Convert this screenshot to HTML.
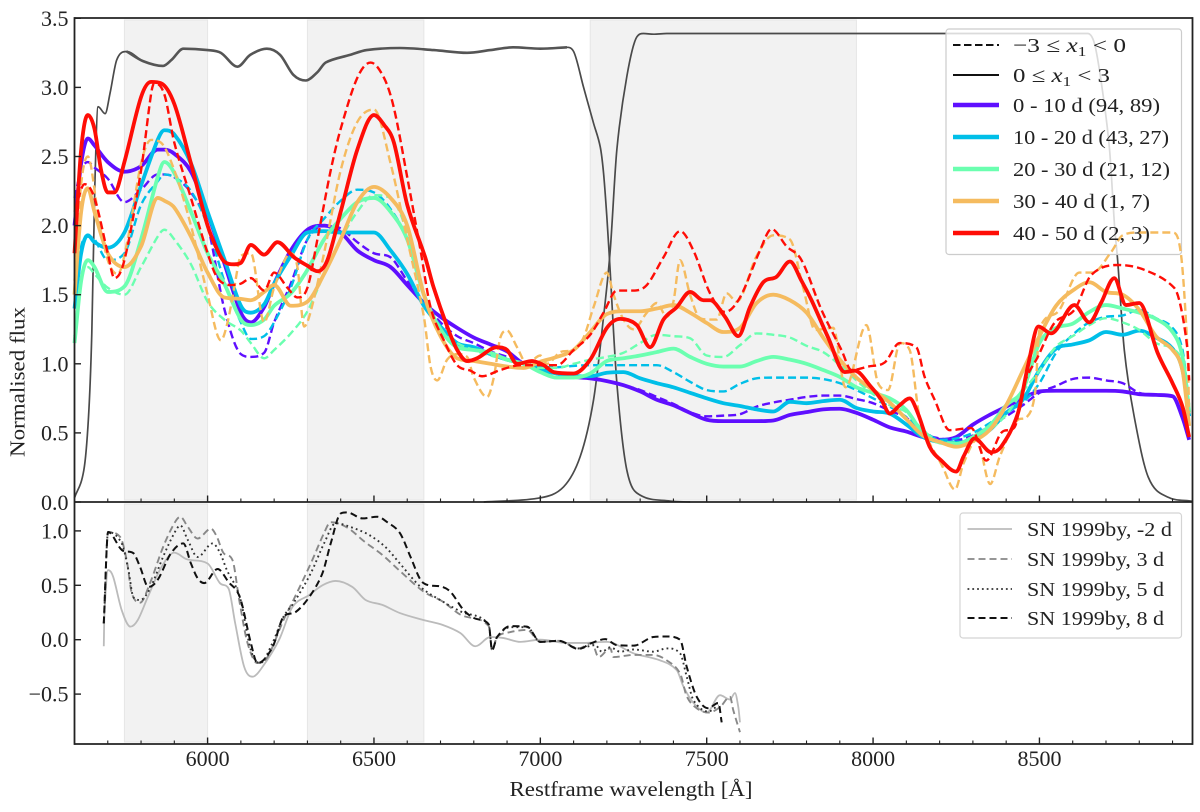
<!DOCTYPE html>
<html lang="en">
<head>
<meta charset="utf-8">
<title>Normalised flux spectra</title>
<style>
html,body{margin:0;padding:0;background:#fff;}
svg{display:block;font-family:"Liberation Serif",serif;fill:#222;}
</style>
</head>
<body>
<svg id="chart" xmlns="http://www.w3.org/2000/svg" width="1200" height="812" viewBox="0 0 1200 812">
  <g id="shades"></g>
  <g id="filters"></g>
  <rect x="946" y="29" width="235.5" height="225.5" rx="3" fill="#fff" fill-opacity="0.8" stroke="#cccccc" stroke-width="1.2"></rect>
  <rect x="960" y="513" width="221.5" height="125" rx="3" fill="#fff" stroke="#d4d4d4" stroke-width="1.2"></rect>
  <g id="series"></g>
  <g id="comparison"></g>
  <g id="axes"></g>

  <g font-size="20.5" fill="#222">
    <line x1="953" x2="999" y1="45" y2="45" stroke="#111" stroke-width="2" stroke-dasharray="7.5,3.5"></line>
    <text x="1013" y="52" textLength="113" lengthAdjust="spacingAndGlyphs">−3 ≤ <tspan font-style="italic">x</tspan><tspan dy="4" font-size="14">1</tspan><tspan dy="-4"> &lt; 0</tspan></text>
    <line x1="953" x2="999" y1="75" y2="75" stroke="#111" stroke-width="2"></line>
    <text x="1013" y="82" textLength="97" lengthAdjust="spacingAndGlyphs">0 ≤ <tspan font-style="italic">x</tspan><tspan dy="4" font-size="14">1</tspan><tspan dy="-4"> &lt; 3</tspan></text>
    <line x1="953" x2="999" y1="105" y2="105" stroke="#5f0fff" stroke-width="4.4"></line>
    <text x="1013" y="112" textLength="147" lengthAdjust="spacingAndGlyphs">0 - 10 d (94, 89)</text>
    <line x1="953" x2="999" y1="137" y2="137" stroke="#00bfe8" stroke-width="4.4"></line>
    <text x="1013" y="144" textLength="156" lengthAdjust="spacingAndGlyphs">10 - 20 d (43, 27)</text>
    <line x1="953" x2="999" y1="169" y2="169" stroke="#6bffb0" stroke-width="4.4"></line>
    <text x="1013" y="176" textLength="157" lengthAdjust="spacingAndGlyphs">20 - 30 d (21, 12)</text>
    <line x1="953" x2="999" y1="201" y2="201" stroke="#f5bb5f" stroke-width="4.4"></line>
    <text x="1013" y="208" textLength="137" lengthAdjust="spacingAndGlyphs">30 - 40 d (1, 7)</text>
    <line x1="953" x2="999" y1="233" y2="233" stroke="#ff0d06" stroke-width="4.4"></line>
    <text x="1013" y="240" textLength="137" lengthAdjust="spacingAndGlyphs">40 - 50 d (2, 3)</text>
  </g>

  <g font-size="20.5" fill="#222">
    <line x1="967.5" x2="1012" y1="529" y2="529" stroke="#bbbbbb" stroke-width="1.8"></line>
    <text x="1027" y="536" textLength="145" lengthAdjust="spacingAndGlyphs">SN 1999by, -2 d</text>
    <line x1="967.5" x2="1012" y1="559" y2="559" stroke="#888888" stroke-width="1.8" stroke-dasharray="7,4"></line>
    <text x="1027" y="566" textLength="137" lengthAdjust="spacingAndGlyphs">SN 1999by, 3 d</text>
    <line x1="967.5" x2="1012" y1="589" y2="589" stroke="#333333" stroke-width="1.8" stroke-dasharray="1.8,3"></line>
    <text x="1027" y="596" textLength="137" lengthAdjust="spacingAndGlyphs">SN 1999by, 5 d</text>
    <line x1="967.5" x2="1012" y1="618" y2="618" stroke="#111111" stroke-width="2" stroke-dasharray="7,4"></line>
    <text x="1027" y="625" textLength="137" lengthAdjust="spacingAndGlyphs">SN 1999by, 8 d</text>
  </g>

  <text x="0" y="0" font-size="21" fill="#222" text-anchor="middle" textLength="150" lengthAdjust="spacingAndGlyphs" transform="translate(24.5,382) rotate(-90)">Normalised flux</text>
  <text x="631" y="796" font-size="21" fill="#222" text-anchor="middle" textLength="243" lengthAdjust="spacingAndGlyphs">Restframe wavelength [Å]</text>
</svg>

<script>
// Shared wavelength grid for the smoother stacked spectra
const waveGrid = [5600,5620,5640,5660,5700,5750,5800,5850,5870,5900,
  5950,6000,6050,6100,6130,6170,6200,6250,6300,6350,
  6400,6450,6500,6550,6600,6650,6700,6750,6800,6850,
  6900,6950,7000,7050,7100,7150,7200,7250,7300,7350,
  7400,7450,7500,7550,7600,7650,7700,7750,7800,7850,
  7900,7950,8000,8050,8100,8150,8200,8250,8300,8350,
  8400,8450,8500,8550,8600,8650,8700,8750,8800,8850,
  8900,8930,8950];

const flux0to10Solid = [2.0,2.45,2.63,2.58,2.46,2.39,2.43,2.55,2.55,2.52,
  2.39,2.09,1.73,1.37,1.30,1.41,1.58,1.82,1.97,2.0,
  1.95,1.82,1.75,1.70,1.57,1.44,1.34,1.26,1.19,1.14,
  1.09,1.0,0.98,0.93,0.905,0.895,0.875,0.845,0.80,0.74,
  0.70,0.645,0.595,0.585,0.585,0.585,0.59,0.63,0.65,0.67,
  0.675,0.645,0.595,0.54,0.51,0.47,0.45,0.47,0.56,0.63,
  0.69,0.75,0.80,0.805,0.805,0.805,0.805,0.80,0.78,0.775,
  0.765,0.61,0.45];
const flux0to10Dashed = [2.2,2.40,2.46,2.42,2.34,2.17,2.26,2.37,2.37,2.35,
  2.24,2.0,1.4,1.07,1.05,1.08,1.3,1.58,1.9,2.0,
  1.98,1.88,1.80,1.77,1.6,1.44,1.3,1.2,1.15,1.09,
  1.05,1.0,0.97,0.93,0.905,0.895,0.875,0.845,0.81,0.76,
  0.71,0.65,0.62,0.625,0.635,0.69,0.72,0.74,0.76,0.77,
  0.77,0.745,0.715,0.66,0.61,0.5,0.46,0.45,0.48,0.55,
  0.62,0.70,0.79,0.84,0.89,0.90,0.88,0.86,0.79,0.775,
  0.765,0.6,0.45];
const flux10to20Solid = [1.4,1.8,1.93,1.88,1.84,1.95,2.29,2.62,2.69,2.66,
  2.45,2.1,1.76,1.42,1.37,1.43,1.58,1.78,1.95,1.96,
  1.95,1.95,1.95,1.82,1.65,1.42,1.27,1.15,1.12,1.07,
  1.03,1.0,0.955,0.93,0.91,0.91,0.935,0.94,0.895,0.86,
  0.83,0.79,0.75,0.715,0.695,0.67,0.655,0.725,0.715,0.73,
  0.74,0.68,0.655,0.64,0.56,0.47,0.435,0.43,0.45,0.52,
  0.645,0.74,0.955,1.11,1.14,1.17,1.23,1.21,1.24,1.19,
  1.11,0.955,0.62];
const flux10to20Dashed = [1.4,1.85,1.92,1.9,1.75,1.8,2.15,2.32,2.37,2.35,
  2.25,2.0,1.6,1.3,1.18,1.2,1.3,1.55,1.9,2.05,
  2.18,2.26,2.24,2.12,1.9,1.5,1.25,1.13,1.10,1.07,
  1.04,1.0,0.98,0.975,0.985,0.99,0.99,0.99,0.99,0.99,
  0.94,0.87,0.81,0.80,0.855,0.895,0.90,0.90,0.90,0.89,
  0.86,0.81,0.75,0.69,0.615,0.52,0.45,0.46,0.50,0.57,
  0.65,0.72,0.86,1.08,1.21,1.30,1.34,1.35,1.39,1.33,
  1.26,1.1,0.7];
const flux20to30Solid = [1.15,1.6,1.75,1.7,1.52,1.56,1.9,2.35,2.46,2.38,
  2.1,1.8,1.58,1.32,1.28,1.32,1.42,1.51,1.68,1.9,
  2.05,2.17,2.2,2.1,1.9,1.5,1.25,1.12,1.1,1.08,
  1.03,1.0,0.94,0.9,0.9,0.93,1.02,1.04,1.06,1.085,
  1.11,1.05,1.0,0.98,0.98,1.02,1.05,1.03,1.0,0.955,
  0.905,0.83,0.79,0.75,0.665,0.5,0.43,0.42,0.47,0.55,
  0.7,0.81,1.15,1.26,1.29,1.375,1.425,1.40,1.37,1.325,
  1.23,1.05,0.65];
const flux20to30Dashed = [1.2,1.62,1.7,1.65,1.55,1.5,1.7,1.92,1.97,1.9,
  1.72,1.45,1.32,1.24,1.15,1.04,1.1,1.22,1.38,1.65,
  1.9,2.1,2.22,2.2,1.95,1.5,1.25,1.15,1.1,1.06,
  1.03,1.0,0.97,0.97,1.0,1.03,1.05,1.08,1.15,1.21,
  1.2,1.185,1.06,1.05,1.135,1.22,1.21,1.19,1.13,1.085,
  0.99,0.88,0.78,0.7,0.65,0.52,0.44,0.43,0.44,0.52,
  0.63,0.8,0.95,1.125,1.2,1.28,1.33,1.3,1.245,1.15,
  1.11,1.0,0.65];
const flux30to40Solid = [1.5,2.1,2.27,2.1,1.8,1.7,1.85,2.2,2.18,2.13,
  1.92,1.66,1.48,1.47,1.46,1.52,1.57,1.42,1.45,1.65,
  1.9,2.17,2.28,2.2,2.0,1.5,1.2,1.04,1.02,1.0,
  0.98,0.97,1.015,1.05,1.10,1.23,1.36,1.38,1.38,1.40,
  1.425,1.37,1.295,1.23,1.26,1.44,1.50,1.46,1.37,1.19,
  1.03,0.9,0.81,0.72,0.6,0.48,0.435,0.40,0.44,0.52,
  0.7,0.95,1.2,1.42,1.53,1.59,1.52,1.5,1.39,1.2,
  1.1,0.95,0.55];

const wave30to40Dashed = [5600,5620,5640,5670,5700,5730,5760,5800,5830,5860,
  5900,5950,6000,6040,6060,6080,6100,6130,6170,6200,
  6250,6270,6290,6310,6350,6400,6450,6500,6550,6600,
  6650,6670,6690,6720,6750,6780,6800,6840,6860,6880,
  6900,6930,6960,7000,7020,7060,7100,7130,7160,7200,
  7220,7250,7280,7320,7350,7380,7400,7420,7450,7480,
  7510,7530,7560,7590,7650,7700,7750,7790,7826,7880,
  7917,7980,8015,8045,8081,8110,8140,8210,8246,8272,
  8312,8352,8381,8433,8462,8487,8500,8560,8620,8660,
  8716,8750,8800,8900,8925,8945,8950];
const flux30to40Dashed = [1.6,2.3,2.5,2.1,1.75,1.65,1.9,2.45,2.62,2.6,
  2.4,2.0,1.5,1.17,1.3,1.55,1.78,1.8,1.3,1.55,
  1.8,1.7,1.27,1.38,1.8,2.4,2.75,2.84,2.45,1.9,
  1.34,0.98,0.88,1.03,1.07,1.05,0.9,0.76,0.9,1.19,
  1.24,1.12,1.0,1.06,1.0,1.085,1.1,1.19,1.41,1.66,
  1.5,1.32,1.25,1.37,1.44,1.34,1.45,1.75,1.5,1.33,
  1.32,1.32,1.51,1.45,1.78,1.93,1.9,1.55,1.245,1.26,
  0.83,1.28,0.86,0.81,1.15,1.1,0.615,0.25,0.09,0.28,
  0.45,0.13,0.33,0.59,0.615,0.79,1.245,1.39,1.66,1.66,
  1.81,1.93,1.95,1.95,1.8,1.1,0.64];

const wave40to50Solid = [5600,5620,5640,5660,5680,5700,5720,5750,5800,5830,
  5860,5900,5950,6000,6030,6050,6080,6100,6130,6170,
  6210,6260,6300,6330,6360,6400,6450,6500,6530,6560,
  6600,6654,6679,6720,6750,6780,6810,6870,6900,6930,
  6975,7010,7040,7100,7150,7200,7240,7290,7330,7370,
  7410,7450,7490,7510,7555,7595,7630,7670,7710,7750,
  7785,7815,7865,7915,7945,7995,8025,8050,8080,8110,
  8135,8170,8205,8250,8272,8305,8355,8385,8435,8465,
  8497,8535,8605,8650,8685,8725,8760,8800,8855,8900,
  8930,8950];
const flux40to50Solid = [1.8,2.55,2.8,2.7,2.4,2.24,2.24,2.46,2.93,3.04,
  3.03,2.88,2.45,2.0,1.82,1.74,1.72,1.73,1.86,1.79,
  1.88,1.77,1.71,1.67,1.75,2.1,2.55,2.8,2.73,2.6,
  2.15,1.77,1.555,1.27,1.10,1.02,1.04,1.12,1.10,1.0,
  1.02,0.99,0.94,0.93,1.03,1.26,1.325,1.28,1.12,1.32,
  1.41,1.52,1.46,1.46,1.34,1.2,1.41,1.59,1.63,1.74,
  1.60,1.46,1.19,0.94,0.95,0.83,0.74,0.64,0.70,0.75,
  0.64,0.40,0.30,0.22,0.33,0.46,0.36,0.40,0.64,0.98,
  1.27,1.22,1.425,1.30,1.44,1.62,1.425,1.44,1.08,0.86,
  0.69,0.47];

const wave40to50Dashed = [5600,5630,5660,5700,5720,5750,5800,5830,5840,5870,
  5900,5950,6000,6030,6070,6100,6130,6170,6200,6240,
  6270,6300,6330,6370,6400,6450,6490,6530,6560,6600,
  6640,6670,6710,6750,6790,6825,6880,6940,7000,7050,
  7100,7150,7190,7230,7280,7320,7370,7420,7460,7510,
  7555,7600,7660,7695,7740,7785,7845,7905,7935,7985,
  8035,8080,8130,8155,8185,8230,8295,8340,8385,8425,
  8455,8495,8545,8605,8655,8735,8815,8905,8925,8945,
  8950];
const flux40to50Dashed = [2.1,2.3,2.2,1.8,1.62,1.75,2.4,2.95,3.03,2.95,
  2.6,2.2,1.8,1.62,1.57,1.58,1.62,1.53,1.66,1.55,
  1.48,1.55,1.9,2.4,2.7,3.07,3.18,3.07,2.85,2.35,
  1.82,1.41,1.17,0.99,0.95,0.91,0.955,0.99,0.99,0.99,
  1.10,1.21,1.37,1.53,1.53,1.57,1.77,1.96,1.82,1.51,
  1.375,1.48,1.82,1.975,1.85,1.75,1.39,1.10,0.955,0.98,
  1.01,1.15,1.12,0.905,0.74,0.52,0.535,0.30,0.50,0.54,
  0.86,1.05,1.295,1.39,1.64,1.715,1.68,1.55,1.41,1.10,
  0.88];

// Filter transmission curves (grey)
const waveFilterA = [5600,5628,5642,5652,5661,5671,5692,5707,5727,5757,
  5806,5866,5892,5927,6000,6040,6090,6128,6178,6218,
  6258,6295,6330,6355,6428,6478,6578,6680,6780,6850,
  6918,7000,7080,7100,7130,7160,7180,7190,7200,7208,
  7230,7260,7300,7390,7450];
const fluxFilterA = [0.03,0.23,0.61,1.22,2.28,2.86,2.81,2.96,3.2,3.26,
  3.19,3.155,3.2,3.28,3.27,3.25,3.15,3.235,3.28,3.235,
  3.09,3.05,3.11,3.18,3.235,3.27,3.285,3.27,3.25,3.27,
  3.29,3.28,3.29,3.26,3.0,2.74,2.57,2.38,2.06,1.75,
  0.86,0.23,0.05,0.007,0];
const waveFilterB = [6830,7000,7070,7120,7160,7190,7210,7230,7260,7290,
  7310,7340,7380,8645,8665,8685,8710,8726,8735,8755,
  8785,8827,8885,8960];
const fluxFilterB = [0,0.03,0.11,0.33,0.74,1.34,1.82,2.55,3.08,3.365,
  3.39,3.385,3.39,3.39,3.32,3.05,2.57,1.99,1.75,1.10,
  0.615,0.18,0.036,0.005];

// SN 1999by comparison spectra (bottom panel)
const waveByMinus2 = [5688,5690,5701,5716,5742,5768,5790,5820,5860,5900,
  5937,6000,6037,6063,6083,6110,6135,6165,6215,6255,
  6305,6345,6385,6435,6475,6525,6578,6650,6707,6760,
  6805,6850,6890,6940,7000,7080,7130,7200,7280,7360,
  7410,7430,7460,7500,7540,7570,7585,7595,7600];
const fluxByMinus2 = [-0.06,0.25,0.64,0.58,0.27,0.12,0.18,0.39,0.66,0.80,
  0.74,0.70,0.52,0.47,0.15,-0.25,-0.34,-0.25,0.0,0.30,
  0.41,0.50,0.54,0.485,0.365,0.32,0.245,0.18,0.135,0.06,
  -0.06,0.025,0.015,-0.02,0.0,-0.03,-0.03,-0.02,-0.125,-0.19,
  -0.28,-0.43,-0.58,-0.67,-0.51,-0.55,-0.49,-0.62,-0.76];
const waveBy3 = [5688,5701,5737,5757,5772,5797,5827,5866,5900,5918,
  5940,5970,6010,6028,6047,6075,6095,6120,6150,6180,
  6228,6258,6310,6350,6370,6420,6472,6525,6575,6650,
  6707,6760,6845,6855,6870,6910,6960,7000,7055,7115,
  7155,7175,7210,7220,7280,7340,7380,7420,7440,7470,
  7505,7540,7570,7580,7600];
const fluxBy3 = [0.15,0.99,0.945,0.73,0.43,0.34,0.52,0.85,1.07,1.13,
  1.04,0.93,1.02,0.945,0.80,0.73,0.365,-0.03,-0.215,-0.16,
  0.18,0.365,0.70,0.98,1.08,1.03,0.90,0.78,0.64,0.44,
  0.35,0.23,0.125,-0.095,0.025,0.07,0.09,-0.02,-0.01,-0.08,
  -0.03,-0.16,-0.08,-0.16,-0.14,-0.14,-0.19,-0.31,-0.52,-0.63,
  -0.67,-0.62,-0.525,-0.65,-0.85];
const waveBy5 = [5688,5701,5742,5762,5777,5797,5827,5866,5900,5918,
  5940,5970,6015,6037,6058,6097,6130,6158,6195,6228,
  6258,6310,6350,6385,6435,6487,6535,6578,6640,6707,
  6760,6845,6855,6870,6910,6960,7000,7055,7115,7165,
  7185,7210,7240,7280,7340,7380,7420,7440,7460,7505,
  7535];
const fluxBy5 = [0.15,0.99,0.885,0.64,0.39,0.365,0.47,0.76,0.98,1.05,
  0.92,0.76,0.885,0.80,0.64,0.39,-0.095,-0.215,-0.03,0.21,
  0.335,0.61,0.885,1.07,1.03,0.96,0.85,0.70,0.485,0.35,
  0.26,0.14,-0.095,0.025,0.115,0.115,-0.02,-0.01,-0.08,-0.05,
  -0.11,-0.07,-0.11,-0.09,-0.11,-0.08,-0.125,-0.34,-0.555,-0.66,
  -0.60];
const waveBy8 = [5688,5701,5742,5777,5797,5822,5850,5890,5927,5950,
  5970,5990,6030,6063,6097,6130,6150,6195,6228,6265,
  6305,6345,6370,6400,6420,6465,6510,6540,6578,6610,
  6640,6665,6700,6730,6770,6800,6845,6855,6870,6910,
  6960,7000,7055,7115,7155,7195,7230,7280,7340,7380,
  7420,7440,7470,7505,7535,7545];
const fluxBy8 = [0.15,0.99,0.825,0.795,0.67,0.485,0.55,0.795,0.885,0.70,
  0.565,0.52,0.65,0.53,0.39,-0.03,-0.215,-0.07,0.21,0.255,
  0.39,0.61,0.885,1.16,1.17,1.115,1.13,1.08,0.98,0.76,
  0.55,0.50,0.49,0.44,0.27,0.2,0.14,-0.095,0.025,0.125,
  0.12,-0.02,-0.01,-0.085,-0.03,0.005,-0.05,-0.055,0.025,0.03,
  0,-0.25,-0.525,-0.63,-0.58,-0.76];

// Axis labels and shaded windows
const xMajorTicks = [6000,6500,7000,7500,8000,8500];
const xTickLabels = ["6000","6500","7000","7500","8000","8500"];
const xMinorTicks = [5700,5800,5900,6100,6200,6300,6400,6600,6700,6800,6900,7100,7200,7300,7400,7600,7700,7800,7900,8100,8200,8300,8400,8600,8700,8800,8900];
const yTopTicks = [0,0.5,1,1.5,2,2.5,3,3.5];
const yTopLabels = ["0.0","0.5","1.0","1.5","2.0","2.5","3.0","3.5"];
const yBottomTicks = [-0.5,0,0.5,1];
const yBottomLabels = ["−0.5","0.0","0.5","1.0"];
const shadeTopStart = [5750,6300,7150];
const shadeTopEnd = [6000,6650,7950];
const shadeBottomStart = [5750,6300];
const shadeBottomEnd = [6000,6650];

const SVGNS = "http://www.w3.org/2000/svg";
const LEFT = 74.5, RIGHT = 1192.5, TOP = 18, MID = 502, BOTTOM = 744;
function xScale(w){ return LEFT + (w - 5600) * (RIGHT - LEFT) / 3360; }
function yTopScale(f){ return MID - f * 138.2; }
function yBottomScale(f){ return 639.7 - f * 108.8; }

function curvePath(waves, fluxes, yScale){
  const n = Math.min(waves.length, fluxes.length);
  const px = [], py = [], d1 = [], m = [];
  for (let i = 0; i < n; i++){ px.push(xScale(waves[i])); py.push(yScale(fluxes[i])); }
  for (let i = 0; i < n - 1; i++){ d1.push((py[i + 1] - py[i]) / ((px[i + 1] - px[i]) || 1)); }
  for (let i = 0; i < n; i++){
    if (i === 0){ m.push(d1[0]); continue; }
    if (i === n - 1){ m.push(d1[n - 2]); continue; }
    if (d1[i - 1] * d1[i] <= 0){ m.push(0); continue; }
    const centred = (py[i + 1] - py[i - 1]) / ((px[i + 1] - px[i - 1]) || 1);
    const limit = 3 * Math.min(Math.abs(d1[i - 1]), Math.abs(d1[i]));
    m.push(Math.sign(centred) * Math.min(Math.abs(centred), limit));
  }
  let d = "M" + px[0].toFixed(2) + " " + py[0].toFixed(2);
  for (let i = 0; i < n - 1; i++){
    const dx = (px[i + 1] - px[i]) / 3;
    d += "C" + (px[i] + dx).toFixed(2) + " " + (py[i] + m[i] * dx).toFixed(2) + " " +
         (px[i + 1] - dx).toFixed(2) + " " + (py[i + 1] - m[i + 1] * dx).toFixed(2) + " " +
         px[i + 1].toFixed(2) + " " + py[i + 1].toFixed(2);
  }
  return d;
}

function drawCurve(parent, name, waves, fluxes, yScale, color, width, dash){
  const el = document.createElementNS(SVGNS, "path");
  el.setAttribute("d", curvePath(waves, fluxes, yScale));
  el.setAttribute("fill", "none");
  el.setAttribute("stroke", color);
  el.setAttribute("stroke-width", width);
  el.setAttribute("stroke-linejoin", "round");
  if (dash) el.setAttribute("stroke-dasharray", dash);
  
  
  parent.appendChild(el);
}

function drawRule(parent, name, x1, y1, x2, y2, width, color){
  const el = document.createElementNS(SVGNS, "line");
  el.setAttribute("x1", x1); el.setAttribute("y1", y1);
  el.setAttribute("x2", x2); el.setAttribute("y2", y2);
  el.setAttribute("stroke", color); el.setAttribute("stroke-width", width);
  
  
  parent.appendChild(el);
}

function drawLabel(parent, name, x, y, anchor, content){
  const el = document.createElementNS(SVGNS, "text");
  el.setAttribute("x", x); el.setAttribute("y", y);
  el.setAttribute("text-anchor", anchor);
  el.setAttribute("font-size", "22");
  el.setAttribute("fill", "#222");
  el.textContent = content;
  
  
  parent.appendChild(el);
}

function drawShade(parent, start, end, yFrom, yTo){
  const el = document.createElementNS(SVGNS, "rect");
  el.setAttribute("x", xScale(start));
  el.setAttribute("y", yFrom);
  el.setAttribute("width", xScale(end) - xScale(start));
  el.setAttribute("height", yTo - yFrom);
  el.setAttribute("fill", "#f2f2f2");
  el.setAttribute("stroke", "#e6e6e6");
  el.setAttribute("stroke-width", "1");
  
  
  parent.appendChild(el);
}

// Shaded windows: three in the top panel, two in the bottom panel
const shadeGroup = document.getElementById("shades");
shadeTopStart.forEach(function(start, i){ drawShade(shadeGroup, start, shadeTopEnd[i], 20, 500); });
shadeBottomStart.forEach(function(start, i){ drawShade(shadeGroup, start, shadeBottomEnd[i], 504, 742); });

// Filter curves, with the thicker noisy plateau of the first band
const filterGroup = document.getElementById("filters");
const plateauIdx = waveFilterA.map(function(w, i){ return (w >= 5757 && w <= 7080) ? i : -1; }).filter(function(i){ return i >= 0; });
drawCurve(filterGroup, "filter-curve-blue", waveFilterA, fluxFilterA, yTopScale, "#4a4a4a", 1.7);
drawCurve(filterGroup, "filter-curve-blue-plateau",
  plateauIdx.map(function(i){ return waveFilterA[i]; }),
  plateauIdx.map(function(i){ return fluxFilterA[i]; }),
  yTopScale, "#555555", 2.6);
drawCurve(filterGroup, "filter-curve-red", waveFilterB, fluxFilterB, yTopScale, "#4a4a4a", 1.7);

// Top panel spectra
const seriesGroup = document.getElementById("series");
const DASH = "8,4", SOLID_W = 3.8, DASH_W = 2.4;
drawCurve(seriesGroup, "spectrum-0-10d-low-x1", waveGrid, flux0to10Dashed, yTopScale, "#5f0fff", DASH_W, DASH);
drawCurve(seriesGroup, "spectrum-0-10d-high-x1", waveGrid, flux0to10Solid, yTopScale, "#5f0fff", SOLID_W);
drawCurve(seriesGroup, "spectrum-10-20d-low-x1", waveGrid, flux10to20Dashed, yTopScale, "#00bfe8", DASH_W, DASH);
drawCurve(seriesGroup, "spectrum-10-20d-high-x1", waveGrid, flux10to20Solid, yTopScale, "#00bfe8", SOLID_W);
drawCurve(seriesGroup, "spectrum-20-30d-low-x1", waveGrid, flux20to30Dashed, yTopScale, "#6bffb0", DASH_W, DASH);
drawCurve(seriesGroup, "spectrum-20-30d-high-x1", waveGrid, flux20to30Solid, yTopScale, "#6bffb0", SOLID_W);
drawCurve(seriesGroup, "spectrum-30-40d-low-x1", wave30to40Dashed, flux30to40Dashed, yTopScale, "#f5bb5f", DASH_W, DASH);
drawCurve(seriesGroup, "spectrum-30-40d-high-x1", waveGrid, flux30to40Solid, yTopScale, "#f5bb5f", SOLID_W);
drawCurve(seriesGroup, "spectrum-40-50d-low-x1", wave40to50Dashed, flux40to50Dashed, yTopScale, "#ff0d06", DASH_W, DASH);
drawCurve(seriesGroup, "spectrum-40-50d-high-x1", wave40to50Solid, flux40to50Solid, yTopScale, "#ff0d06", SOLID_W);

// Bottom panel spectra
const compGroup = document.getElementById("comparison");
drawCurve(compGroup, "sn1999by-minus-2d", waveByMinus2, fluxByMinus2, yBottomScale, "#bbbbbb", 1.8);
drawCurve(compGroup, "sn1999by-3d", waveBy3, fluxBy3, yBottomScale, "#888888", 1.9, "7,4");
drawCurve(compGroup, "sn1999by-5d", waveBy5, fluxBy5, yBottomScale, "#333333", 1.9, "1.8,3.2");
drawCurve(compGroup, "sn1999by-8d", waveBy8, fluxBy8, yBottomScale, "#111111", 2, "7,4");

// Axes: ticks, labels, spines
const axesGroup = document.getElementById("axes");
[MID, BOTTOM].forEach(function(base){
  xMajorTicks.forEach(function(w){
    drawRule(axesGroup, "x-major-tick", xScale(w), base, xScale(w), base - 6.5, 1.4, "#222");
  });
  xMinorTicks.forEach(function(w){
    drawRule(axesGroup, "x-minor-tick", xScale(w), base, xScale(w), base - 3.5, 1.1, "#222");
  });
});
xMajorTicks.forEach(function(w, i){
  drawLabel(axesGroup, "x-tick-label", xScale(w), 766, "middle", xTickLabels[i]);
});
yTopTicks.forEach(function(f, i){
  drawRule(axesGroup, "y-tick-top", LEFT, yTopScale(f), LEFT + 6.5, yTopScale(f), 1.4, "#222");
  drawLabel(axesGroup, "y-tick-label-top", 68.5, yTopScale(f) + 8 - (f === 0 ? 0 : 0.5), "end", yTopLabels[i]);
});
yBottomTicks.forEach(function(f, i){
  drawRule(axesGroup, "y-tick-bottom", LEFT, yBottomScale(f), LEFT + 6.5, yBottomScale(f), 1.4, "#222");
  drawLabel(axesGroup, "y-tick-label-bottom", 68.5, yBottomScale(f) + 7.5, "end", yBottomLabels[i]);
});
drawRule(axesGroup, "top-spine", LEFT, TOP, RIGHT, TOP, 1.8, "#222");
drawRule(axesGroup, "panel-divider-spine", LEFT, MID, RIGHT, MID, 1.8, "#222");
drawRule(axesGroup, "bottom-spine", LEFT, BOTTOM, RIGHT, BOTTOM, 1.8, "#222");
drawRule(axesGroup, "left-spine", LEFT, TOP - 0.9, LEFT, BOTTOM + 0.9, 1.8, "#222");
drawRule(axesGroup, "right-spine", RIGHT, TOP - 0.9, RIGHT, BOTTOM + 0.9, 1.8, "#222");
</script>
</body>
</html>
